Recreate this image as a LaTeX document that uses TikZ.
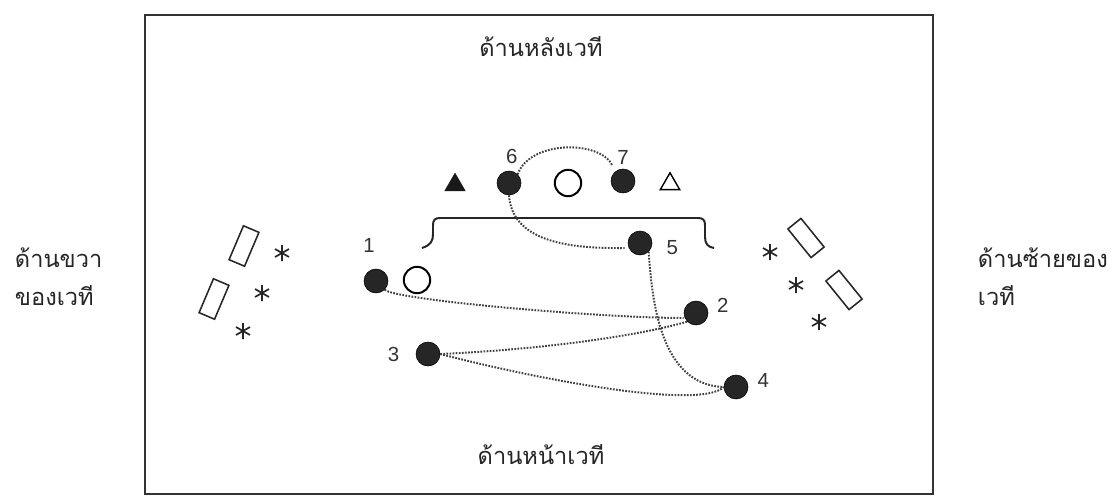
\documentclass[tikz,border=0pt]{standalone}
\usepackage{fontspec}
\setmainfont{Liberation Sans}
\newfontfamily\thaifont[Script=Thai]{Loma}
\usetikzlibrary{positioning,shapes.geometric}

\begin{document}
\begin{tikzpicture}[x=0.025cm, y=-0.025cm,
  dancer/.style={circle, fill=black!85, draw=black, inner sep=0pt, minimum size=0.6cm},
  ring/.style={circle, draw=black, line width=1.4pt, inner sep=0pt, minimum size=0.66cm},
  prop/.style={rectangle, draw=black!85, line width=1.1pt, inner sep=0pt,
               minimum width=0.92cm, minimum height=0.42cm},
  tri/.style={regular polygon, regular polygon sides=3, inner sep=0pt, minimum size=0.62cm},
  num/.style={font=\fontsize{14.5}{16}\selectfont, text=black!80, inner sep=1pt},
  thai/.style={font=\thaifont\fontsize{16.8}{27}\selectfont, text=black!85},
  side/.style={thai, align=left, anchor=west},
  trail/.style={dash pattern=on 1.2pt off 1pt, line width=1.4pt, black!75},
  aster/.pic={\draw[line width=1.2pt, black!85] (0,-8) -- (0,8) (-7,-4) -- (7,4) (-7,4) -- (7,-4);}
]

\path[use as bounding box, fill=white] (0,0) rectangle (1115,501);

%% stage frame
\draw[line width=1.4pt, black!80] (145,15) rectangle (933,494);

%% sides of the stage
\node[thai] (back) at (541,47) {ด้านหลังเวที};
\node[thai] (front) at (541,455) {ด้านหน้าเวที};
\node[side] (rside) at (10,277) {ด้านขวา\\ของเวที};
\node[side] (lside) at (973,277) {ด้านซ้ายของ\\เวที};

%% back row
\node[tri, fill=black!90] (tfill) at (455,185) {};
\node[dancer] (d6) at (509,183) {};
\node[ring] (rback) at (568,183) {};
\node[dancer] (d7) at (623,181) {};
\node[tri, draw=black, line width=1pt, minimum size=0.56cm] (topen) at (670,184) {};

%% platform
\draw[line width=1.4pt, black!85] (422,248) .. controls (431,245) and (433,241) .. (433,234)
  -- (433,225) .. controls (433,220) and (435,218) .. (440,218) -- (698,218)
  .. controls (703,218) and (705,220) .. (705,225) -- (705,237)
  .. controls (705,244) and (708,247) .. (714,248);

%% dancers
\node[dancer] (d5) at (640,243) {};
\node[dancer] (d1) at (376,281) {};
\node[ring] (rfront) at (417,280) {};
\node[dancer] (d2) at (696,313) {};
\node[dancer] (d3) at (428,354) {};
\node[dancer] (d4) at (736,387) {};

\node[num, above=10pt of d1, xshift=-5pt] (n1) {1};
\node[num, right=5pt of d2, yshift=5.5pt] (n2) {2};
\node[num, left=10.5pt of d3] (n3) {3};
\node[num, right=5.5pt of d4, yshift=4.3pt] (n4) {4};
\node[num, right=9pt of d5, yshift=-3.6pt] (n5) {5};
\node[num, above=3.5pt of d6, xshift=2pt] (n6) {6};
\node[num, above=2pt of d7] (n7) {7};

%% wings
\node[prop, rotate=67] (pl1) at (244,246) {};
\node[prop, rotate=67] (pl2) at (214,299) {};
\node[prop, rotate=-51] (pr1) at (806,238) {};
\node[prop, rotate=-51] (pr2) at (844,290) {};
\pic at (282,253) {aster};
\pic at (262,293) {aster};
\pic at (243,331) {aster};
\pic at (770,252) {aster};
\pic at (796,285) {aster};
\pic at (819,322) {aster};

%% paths
\draw[trail] (d6.north east) .. controls (530,140) and (600,140) .. ([shift={(-2,-7)}]d7.north west);
\draw[trail] (d6.south) .. controls (512,240) and (565,249) .. ([shift={(-3,5)}]d5.west);
\draw[trail] (d5.south east) .. controls (652,300) and (660,385) .. (d4.west);
\draw[trail] (d1.south east) .. controls (395,300) and (600,318) .. ([shift={(0,5)}]d2.west);
\draw[trail] (d3.east) .. controls (530,350) and (630,338) .. (d2.south west);
\draw[trail] (d3.east) .. controls (540,380) and (700,410) .. (d4.west);

\end{tikzpicture}
\end{document}
